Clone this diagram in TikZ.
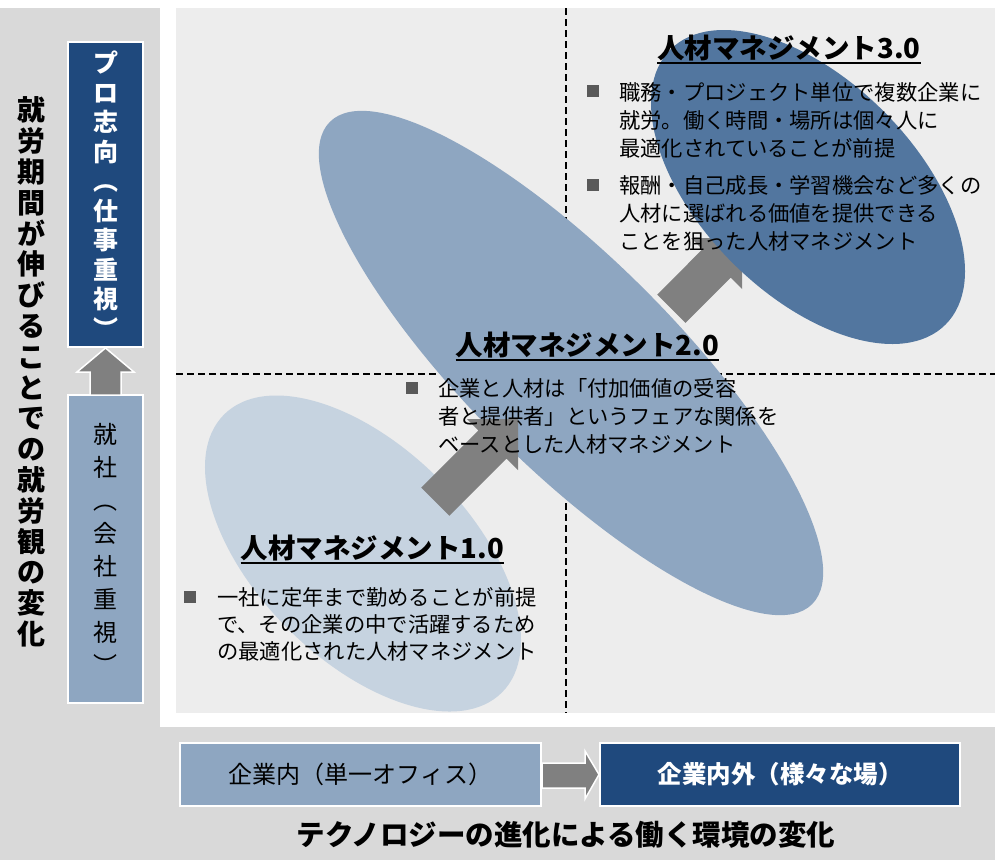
\documentclass[tikz,border=0pt]{standalone}
\usepackage{fontspec}
\newfontfamily\jp{Noto Sans CJK JP}
\definecolor{panelgray}{HTML}{D9D9D9}
\definecolor{plotbg}{HTML}{EDEDED}
\definecolor{elA}{HTML}{C6D3E0}
\definecolor{elB}{HTML}{8EA6C1}
\definecolor{elC}{HTML}{52769F}
\definecolor{darkbox}{HTML}{1F497D}
\definecolor{lightbox}{HTML}{8EA6C1}
\definecolor{arrowgray}{HTML}{808080}
\definecolor{bulletgray}{HTML}{595959}
\begin{document}
\begin{tikzpicture}[x=1pt,y=-1pt,
  body/.style={font=\jp\fontsize{21.3}{25}\selectfont, anchor=west, inner sep=0pt, text height=18.7pt, text depth=2.6pt},
  ttl/.style={font=\jp\bfseries\fontsize{27.5}{30}\selectfont, inner sep=0pt, text height=24.2pt, text depth=3.3pt},
  bul/.style={fill=bulletgray, minimum size=12pt, inner sep=0pt},
  uline/.style={line width=2pt},
  grid/.style={line width=1.4pt, dash pattern=on 7pt off 4pt},
  blockarrow/.style={fill=arrowgray},
  outlinedarrow/.style={fill=arrowgray, draw=white, line width=1.5pt},
  boxframe/.style={draw=white, line width=2pt, inner sep=0pt}
]
\useasboundingbox (0,0) rectangle (995,860);
% backgrounds
\fill[white] (0,0) rectangle (995,860);
\fill[panelgray] (0,8) rectangle (995,860);
\fill[white] (160,8) rectangle (995,727);
\fill[plotbg] (176,8) rectangle (995,713);
% dashed quadrant lines
\coordinate (vtop) at (566,8);
\coordinate (vbot) at (566,713);
\coordinate (hl) at (176,374);
\coordinate (hr) at (995,374);
\draw[grid] (vtop) -- (vbot);
\draw[grid] (hl) -- (hr);
% ellipses
\begin{scope}
\clip (176,8) rectangle (995,713);
\fill[elA, rotate around={-45:(363,553.5)}] (363,553.5) ellipse [x radius=196.5, y radius=106.3];
\fill[elB, rotate around={-45:(571,363)}] (571,363) ellipse [x radius=341, y radius=104];
% block arrows
\fill[blockarrow] (518,419) -- (518,470) -- (506.6,458.6) -- (449.4,515.8) -- (421.2,487.6) -- (478.4,430.4) -- (467,419) -- cycle;
\fill[blockarrow] (742,238) -- (742,289) -- (730.7,277.6) -- (685.4,322.9) -- (657.2,294.6) -- (702.4,249.3) -- (691.1,238) -- cycle;
\fill[elC, rotate around={-45:(808,187)}] (808,187) ellipse [x radius=194.5, y radius=107];
\end{scope}
% titles
\node[ttl] (t3) at (789,48) {人材マネジメント3.0};
\draw[uline] ([yshift=-15pt]t3.west) -- ([yshift=-15pt]t3.east);
\node[ttl] (t2) at (587.5,345) {人材マネジメント2.0};
\draw[uline] ([yshift=-15pt]t2.west) -- ([yshift=-15pt]t2.east);
\node[ttl] (t1) at (372.5,548) {人材マネジメント1.0};
\draw[uline] ([yshift=-15pt]t1.west) -- ([yshift=-15pt]t1.east);
% 3.0 text
\node[bul] (b3a) at (593,91) {};
\node[body] (l3a) at (619,92) {職務・プロジェクト単位で複数企業に};
\node[body] (l3b) at (619,120) {就労。働く時間・場所は個々人に};
\node[body] (l3c) at (619,148) {最適化されていることが前提};
\node[bul] (b3b) at (593,185) {};
\node[body] (l3d) at (619,185) {報酬・自己成長・学習機会など多くの};
\node[body] (l3e) at (619,213) {人材に選ばれる価値を提供できる};
\node[body] (l3f) at (619,241) {ことを狙った人材マネジメント};
% 2.0 text
\node[bul] (b2) at (412,388) {};
\node[body] (l2a) at (438,388) {企業と人材は「付加価値の受容};
\node[body] (l2b) at (438,416) {者と提供者」というフェアな関係を};
\node[body] (l2c) at (438,444) {ベースとした人材マネジメント};
% 1.0 text
\node[bul] (b1) at (190,597) {};
\node[body] (l1a) at (217,597) {一社に定年まで勤めることが前提};
\node[body] (l1b) at (217,624) {で、その企業の中で活躍するため};
\node[body] (l1c) at (217,651) {の最適化された人材マネジメント};
% left panel
\node[font=\jp\bfseries\fontsize{28}{30.8}\selectfont, align=center, inner sep=0pt] (vlabel) at (31,372)
  {就\\労\\期\\間\\が\\伸\\び\\る\\こ\\と\\で\\の\\就\\労\\観\\の\\変\\化};
\node[boxframe, fill=darkbox, minimum width=75pt, minimum height=305pt, text=white,
  font=\jp\bfseries\fontsize{25}{29.5}\selectfont, align=center] (pro) at (105.5,194.5)
  {プ\\ロ\\志\\向\\︵\\仕\\事\\重\\視\\︶};
\node[boxframe, fill=lightbox, minimum width=75pt, minimum height=308pt, text=black,
  font=\jp\fontsize{24}{33}\selectfont, align=center] (sha) at (105.5,549)
  {就\\社\\︵\\会\\社\\重\\視\\︶};
\draw[outlinedarrow] (pro.south) -- (134,372) -- (121,372) -- (121,395) -- (90,395) -- (90,372) -- (77,372) -- cycle;
% bottom panel
\node[boxframe, fill=lightbox, minimum width=361pt, minimum height=63pt,
  font=\jp\fontsize{24}{28}\selectfont] (inside) at (360.5,774.5) {企業内（単一オフィス）};
\node[boxframe, fill=darkbox, minimum width=360pt, minimum height=63pt, text=white,
  font=\jp\bfseries\fontsize{24.5}{28}\selectfont] (outside) at (780,774.5) {企業内外（様々な場）};
\draw[outlinedarrow] (outside.west) -- (585,751) -- (585,763) -- (inside.east |- 0,763) -- (inside.east |- 0,788) -- (585,788) -- (585,799) -- cycle;
\node[font=\jp\bfseries\fontsize{28.5}{32}\selectfont, inner sep=0pt] (caption) at (566,835)
  {テクノロジーの進化による働く環境の変化};
\end{tikzpicture}
\end{document}
